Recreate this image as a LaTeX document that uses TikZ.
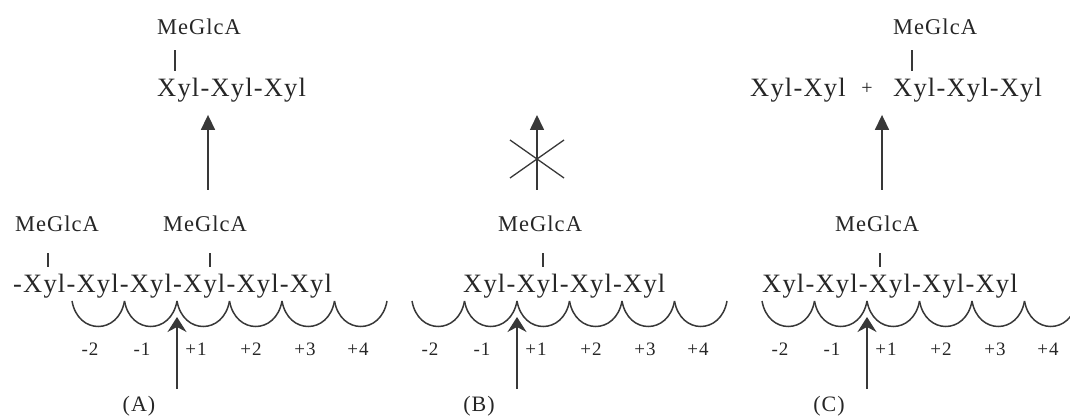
\documentclass[tikz,border=0pt]{standalone}
\usepackage{fontspec}
\setmainfont{Liberation Serif}[LetterSpace=4.5]
\usetikzlibrary{arrows.meta}
\definecolor{xylInk}{HTML}{262626}
\definecolor{xylLine}{HTML}{383838}
\tikzset{
  chain/.style={anchor=base west, inner sep=0pt, font=\fontsize{26.5}{28}\selectfont, text=xylInk},
  sub/.style={anchor=base west, inner sep=0pt, font=\fontsize{22.5}{24}\selectfont, text=xylInk},
  subnum/.style={anchor=base, inner sep=0pt, font=\fontsize{19}{21}\selectfont, text=xylInk},
  tag/.style={anchor=base, inner sep=0pt, font=\fontsize{22}{24}\selectfont, text=xylInk},
  bond/.style={draw=xylLine, line width=1.3pt},
  site/.style={draw=xylLine, line width=1.5pt},
  cut/.style={-{Stealth[length=15pt,width=19pt,inset=5pt]}, draw=xylLine, line width=1.6pt},
  yield/.style={-{Triangle[length=15pt,width=14pt]}, draw=xylLine, line width=1.6pt},
  nogo/.style={draw=xylLine, line width=1.3pt},
}

\begin{document}
\begin{tikzpicture}[x=1pt,y=-1pt]
  \useasboundingbox (0,0) rectangle (1070,419);
  % (A) substrate and product
  \node[sub] (mgA1) at (15,232) {MeGlcA};
  \node[sub] (mgA2) at (163,232) {MeGlcA};
  \node[chain] (xA) at (13,293) {-Xyl-Xyl-Xyl-Xyl-Xyl-Xyl};
  \coordinate (bA1) at (48,0);
  \coordinate (bA2) at (210,0);
  \draw[bond,shorten <=21pt,shorten >=7pt] (mgA1.south -| bA1) -- (xA.north -| bA1);
  \draw[bond,shorten <=21pt,shorten >=7pt] (mgA2.south -| bA2) -- (xA.north -| bA2);
  \node[sub] (mgA3) at (157,35) {MeGlcA};
  \node[chain] (pA) at (157,97) {Xyl-Xyl-Xyl};
  \coordinate (bA3) at (175,0);
  \draw[bond,shorten <=15pt,shorten >=7pt] (mgA3.south -| bA3) -- (pA.north -| bA3);
  \coordinate (tA) at (208,190);
  \draw[yield,shorten >=12pt] (tA) -- (pA.south -| tA);
  % (B) no cleavage
  \node[sub] (mgB) at (498,232) {MeGlcA};
  \node[chain] (xB) at (463,293) {Xyl-Xyl-Xyl-Xyl};
  \coordinate (bB) at (543,0);
  \draw[bond,shorten <=21pt,shorten >=7pt] (mgB.south -| bB) -- (xB.north -| bB);
  \coordinate (tB) at (537,190);
  \coordinate (hB) at (537,115);
  \draw[yield] (tB) -- (hB);
  \draw[nogo] (510,140) -- (564,178);
  \draw[nogo] (510,178) -- (564,140);
  % (C) substrate and products
  \node[sub] (mgC1) at (835,232) {MeGlcA};
  \node[chain] (xC) at (762,293) {Xyl-Xyl-Xyl-Xyl-Xyl};
  \coordinate (bC1) at (880,0);
  \draw[bond,shorten <=21pt,shorten >=7pt] (mgC1.south -| bC1) -- (xC.north -| bC1);
  \node[sub] (mgC2) at (893,35) {MeGlcA};
  \node[chain] (pC1) at (750,97) {Xyl-Xyl};
  \node[chain,anchor=base,font=\fontsize{20}{22}\selectfont] (plus) at (867,95) {+};
  \node[chain] (pC2) at (893,97) {Xyl-Xyl-Xyl};
  \coordinate (bC2) at (912,0);
  \draw[bond,shorten <=15pt,shorten >=7pt] (mgC2.south -| bC2) -- (pC2.north -| bC2);
  \coordinate (tC) at (882,190);
  \draw[yield,shorten >=12pt] (tC) -- (pC2.south -| tC);
  % subsites, numbering and point of attack
  \foreach \p/\s in {A/72,B/412,C/762}{
    \foreach \k in {0,...,5}
      \draw[site] ({\s+\k*52.5},301) .. controls ({\s+\k*52.5+6},335) and ({\s+\k*52.5+46.5},335) .. ({\s+\k*52.5+52.5},301);
    \foreach \n/\dx [count=\i] in {-2/18,-1/70,+1/124,+2/179,+3/233,+4/286}
      \node[subnum] (num\p\i) at ({\s+\dx},355) {\n};
    \coordinate (tail\p) at ({\s+105},389);
    \coordinate (cusp\p) at ({\s+105},317);
    \draw[cut] (tail\p) -- (cusp\p);
    \node[tag] (lab\p) at ({\s+67},411) {(\p)};
  }
\end{tikzpicture}
\end{document}
